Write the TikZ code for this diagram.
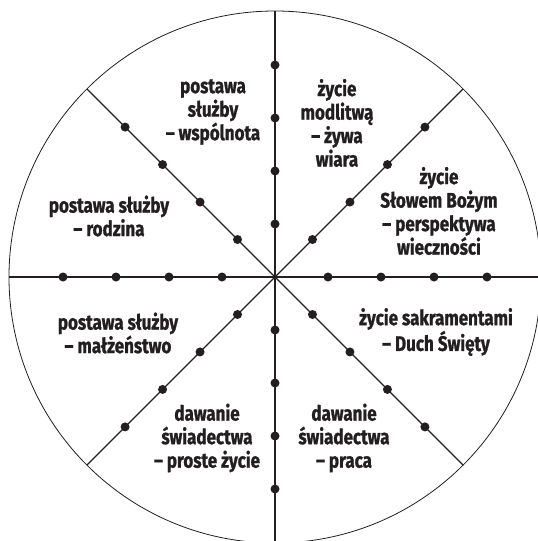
\documentclass[tikz,border=0pt]{standalone}
\usepackage{fontspec}
\newfontfamily\lblfont{Fira Sans}[FakeStretch=0.81,BoldFeatures={FakeBold=1}]
\usetikzlibrary{calc}
\definecolor{ink}{HTML}{231F20}
\begin{document}
\begin{tikzpicture}[x=1pt,y=-1pt,
  dot/.style={circle,fill=ink,inner sep=0pt,minimum size=9pt},
  lbl/.style={font=\lblfont\bfseries\fontsize{21}{23.5}\selectfont,align=center,text=ink,inner sep=0pt},
  spoke/.style={line width=1.2pt,draw=ink},
  rim/.style={line width=0.8pt,draw=ink}]
\useasboundingbox (0,0) rectangle (538,541);
\coordinate (C) at (275,277);
\draw[rim] (C) circle[radius=266];
\foreach \a in {0,45,...,315} {
  \coordinate (E\a) at ($(C)+(\a:266)$);
  \draw[spoke] (C) -- (E\a);
  \foreach \k in {1,2,3,4}
    \node[dot] (D\a-\k) at ($(C)+(\a:53*\k)$) {};
}
\node[lbl] (l1) at (213,112) {postawa\\służby\\– wspólnota};
\node[lbl] (l2) at (337,123) {życie\\modlitwą\\– żywa\\wiara};
\node[lbl] (l3) at (439,211) {życie\\Słowem Bożym\\– perspektywa\\wieczności};
\node[lbl] (l4) at (109,216) {postawa służby\\– rodzina};
\node[lbl] (l5) at (118,333) {postawa służby\\– małżeństwo};
\node[lbl] (l6) at (436,332) {życie sakramentami\\– Duch Święty};
\node[lbl] (l7) at (207,438) {dawanie\\świadectwa\\– proste życie};
\node[lbl] (l8) at (344,438) {dawanie\\świadectwa\\– praca};
\end{tikzpicture}
\end{document}
